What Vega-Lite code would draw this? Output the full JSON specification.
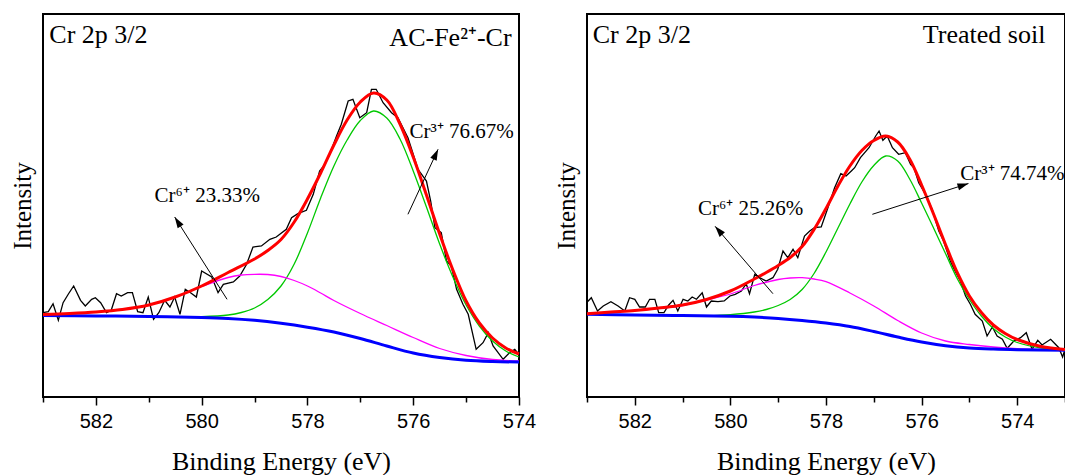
{
  "$schema": "https://vega.github.io/schema/vega-lite/v6.json",
  "background": "white",
  "padding": {"left": 9, "top": 13, "right": 0, "bottom": 0},
  "bounds": "flush",
  "spacing": 68,
  "config": {
    "view": {"stroke": "black", "strokeWidth": 2},
    "axis": {"grid": false, "domain": false, "labelColor": "black", "titleColor": "black", "tickColor": "black", "titleFontWeight": "normal", "titleFont": "Liberation Serif", "labelFont": "Liberation Sans"}
  },
  "datasets": {
    "L_raw": [
      {"E":583.0,"I":84.3},{"E":582.9,"I":85.3},{"E":582.81,"I":93.3},{"E":582.71,"I":76.7},{"E":582.62,"I":94.3},{"E":582.52,"I":103},{"E":582.42,"I":111},{"E":582.29,"I":96.7},{"E":582.2,"I":91},{"E":582.08,"I":97.7},{"E":582.01,"I":99.3},{"E":581.91,"I":94.3},{"E":581.8,"I":84.3},{"E":581.71,"I":86.7},{"E":581.61,"I":103.3},{"E":581.52,"I":101},{"E":581.4,"I":104.3},{"E":581.31,"I":104.3},{"E":581.21,"I":85.3},{"E":581.11,"I":84.3},{"E":581.01,"I":100},{"E":580.91,"I":77.7},{"E":580.81,"I":84.3},{"E":580.7,"I":96.7},{"E":580.6,"I":90},{"E":580.51,"I":100},{"E":580.41,"I":82.7},{"E":580.31,"I":107.7},{"E":580.21,"I":104.3},{"E":580.1,"I":100},{"E":580.0,"I":126},{"E":579.81,"I":120},{"E":579.69,"I":104.3},{"E":579.59,"I":112.7},{"E":579.4,"I":115},{"E":579.28,"I":121},{"E":579.15,"I":132.7},{"E":579.03,"I":150},{"E":578.87,"I":151},{"E":578.71,"I":157.7},{"E":578.59,"I":160},{"E":578.4,"I":167.7},{"E":578.3,"I":179.3},{"E":578.18,"I":183.3},{"E":578.02,"I":186.7},{"E":577.89,"I":202.7},{"E":577.77,"I":226},{"E":577.67,"I":232.7},{"E":577.57,"I":244},{"E":577.45,"I":261},{"E":577.36,"I":272.7},{"E":577.23,"I":296},{"E":577.14,"I":297.7},{"E":577.01,"I":279.3},{"E":576.88,"I":284.3},{"E":576.79,"I":307.7},{"E":576.7,"I":307.7},{"E":576.57,"I":294.3},{"E":576.41,"I":284.3},{"E":576.29,"I":279.3},{"E":576.1,"I":259.3},{"E":576.03,"I":247.7},{"E":575.91,"I":227.7},{"E":575.75,"I":216},{"E":575.67,"I":196},{"E":575.59,"I":169.3},{"E":575.47,"I":164.3},{"E":575.37,"I":136},{"E":575.28,"I":131},{"E":575.18,"I":107.7},{"E":575.06,"I":92.7},{"E":574.96,"I":82.7},{"E":574.81,"I":47.7},{"E":574.68,"I":54.3},{"E":574.58,"I":64.3},{"E":574.49,"I":51},{"E":574.3,"I":37.7},{"E":574.18,"I":44.3},{"E":574.08,"I":47.7},{"E":574.0,"I":42.7}
    ],
    "L_env": [
      {"E":583,"I":82.5},{"E":582.5,"I":83.5},{"E":582,"I":85},{"E":581.5,"I":87.5},{"E":581,"I":92},{"E":580.5,"I":100},{"E":580,"I":111},{"E":579.5,"I":124.5},{"E":579,"I":138},{"E":578.75,"I":146.5},{"E":578.5,"I":157.5},{"E":578.25,"I":175},{"E":578,"I":198},{"E":577.75,"I":224},{"E":577.5,"I":252},{"E":577.25,"I":277},{"E":577,"I":295},{"E":576.75,"I":304},{"E":576.5,"I":297},{"E":576.25,"I":273},{"E":576,"I":240},{"E":575.75,"I":202},{"E":575.5,"I":163},{"E":575.25,"I":127},{"E":575,"I":96},{"E":574.75,"I":74},{"E":574.5,"I":59},{"E":574.25,"I":49},{"E":574,"I":43}
    ],
    "L_cr3": [
      {"E":580.5,"I":80},{"E":580,"I":80.3},{"E":579.5,"I":82},{"E":579.25,"I":84.5},{"E":579,"I":89},{"E":578.75,"I":97.5},{"E":578.5,"I":111},{"E":578.25,"I":133},{"E":578,"I":164},{"E":577.75,"I":199},{"E":577.5,"I":231},{"E":577.25,"I":257},{"E":577,"I":276.5},{"E":576.75,"I":286},{"E":576.5,"I":279},{"E":576.25,"I":258},{"E":576,"I":226},{"E":575.75,"I":190},{"E":575.5,"I":153},{"E":575.25,"I":120},{"E":575,"I":92},{"E":574.75,"I":71},{"E":574.5,"I":56},{"E":574.25,"I":46},{"E":574,"I":40}
    ],
    "L_cr6": [
      {"E":583,"I":82.5},{"E":582,"I":85},{"E":581,"I":92},{"E":580.5,"I":100},{"E":580,"I":110.5},{"E":579.5,"I":119.5},{"E":579.25,"I":122},{"E":579,"I":122.7},{"E":578.75,"I":122.5},{"E":578.5,"I":120.5},{"E":578.25,"I":116.5},{"E":578,"I":111},{"E":577.75,"I":104},{"E":577.5,"I":96.5},{"E":577,"I":83.5},{"E":576.5,"I":71.5},{"E":576,"I":59.5},{"E":575.5,"I":48.5},{"E":575,"I":41.5},{"E":574.5,"I":37.5},{"E":574,"I":36}
    ],
    "L_bg": [
      {"E":583,"I":81.5},{"E":582,"I":81.1},{"E":581,"I":80.5},{"E":580,"I":79.6},{"E":579.5,"I":78.6},{"E":579,"I":76.7},{"E":578.5,"I":73.7},{"E":578,"I":69.8},{"E":577.5,"I":65},{"E":577,"I":58.5},{"E":576.5,"I":51},{"E":576,"I":44},{"E":575.5,"I":39.5},{"E":575,"I":36.7},{"E":574.5,"I":35.5},{"E":574,"I":35}
    ],
    "R_raw": [
      {"E":582.99,"I":95.3},{"E":582.91,"I":99.3},{"E":582.78,"I":86},{"E":582.66,"I":91},{"E":582.5,"I":95.3},{"E":582.35,"I":91},{"E":582.21,"I":86},{"E":582.11,"I":99.3},{"E":582.0,"I":97.7},{"E":581.9,"I":90},{"E":581.78,"I":90},{"E":581.69,"I":97.7},{"E":581.58,"I":97.7},{"E":581.5,"I":84.3},{"E":581.39,"I":84.3},{"E":581.29,"I":92},{"E":581.2,"I":96.7},{"E":581.1,"I":86},{"E":580.99,"I":97.7},{"E":580.89,"I":96},{"E":580.8,"I":100},{"E":580.71,"I":97.7},{"E":580.59,"I":104.3},{"E":580.5,"I":90},{"E":580.4,"I":96},{"E":580.26,"I":95.3},{"E":580.13,"I":96},{"E":580.01,"I":101},{"E":579.9,"I":102.7},{"E":579.77,"I":106},{"E":579.67,"I":113.3},{"E":579.6,"I":103.3},{"E":579.49,"I":122.7},{"E":579.39,"I":119.3},{"E":579.25,"I":116},{"E":579.11,"I":119.3},{"E":579.01,"I":127.7},{"E":578.9,"I":146},{"E":578.8,"I":139.3},{"E":578.69,"I":147.7},{"E":578.59,"I":139.3},{"E":578.45,"I":161},{"E":578.34,"I":166},{"E":578.24,"I":169.3},{"E":578.1,"I":170},{"E":577.96,"I":189.3},{"E":577.82,"I":209.3},{"E":577.69,"I":223.3},{"E":577.58,"I":221},{"E":577.47,"I":226},{"E":577.4,"I":229.3},{"E":577.28,"I":239.3},{"E":577.1,"I":249.3},{"E":576.96,"I":261},{"E":576.89,"I":266},{"E":576.81,"I":256.7},{"E":576.72,"I":261},{"E":576.61,"I":249.3},{"E":576.48,"I":242.7},{"E":576.34,"I":244.3},{"E":576.23,"I":232.7},{"E":576.16,"I":229.3},{"E":576.06,"I":214.3},{"E":575.92,"I":202.7},{"E":575.78,"I":187.7},{"E":575.64,"I":166},{"E":575.54,"I":156},{"E":575.4,"I":136},{"E":575.3,"I":126},{"E":575.19,"I":116},{"E":575.08,"I":101},{"E":574.98,"I":92.7},{"E":574.88,"I":82.7},{"E":574.73,"I":76},{"E":574.63,"I":61},{"E":574.52,"I":70},{"E":574.42,"I":61},{"E":574.31,"I":57.7},{"E":574.21,"I":48.7},{"E":574.07,"I":56},{"E":573.93,"I":59.3},{"E":573.81,"I":64.3},{"E":573.69,"I":47.7},{"E":573.57,"I":56.7},{"E":573.48,"I":52},{"E":573.3,"I":57.7},{"E":573.13,"I":49.3},{"E":573.05,"I":40},{"E":573.0,"I":47.7}
    ],
    "R_env": [
      {"E":583,"I":83.3},{"E":582.5,"I":85},{"E":582,"I":86.6},{"E":581.5,"I":89},{"E":581,"I":92},{"E":580.5,"I":97.5},{"E":580,"I":106},{"E":579.5,"I":118},{"E":579.25,"I":124.5},{"E":579,"I":131.5},{"E":578.75,"I":139.5},{"E":578.5,"I":150.5},{"E":578.25,"I":167.5},{"E":578,"I":188.5},{"E":577.75,"I":211},{"E":577.5,"I":231},{"E":577.25,"I":246.5},{"E":577,"I":256.5},{"E":576.75,"I":261},{"E":576.5,"I":255},{"E":576.25,"I":238},{"E":576,"I":212},{"E":575.75,"I":183},{"E":575.5,"I":152.5},{"E":575.25,"I":124},{"E":575,"I":101},{"E":574.75,"I":84.5},{"E":574.5,"I":72},{"E":574.25,"I":63.5},{"E":574,"I":57.5},{"E":573.5,"I":50.5},{"E":573,"I":47.5}
    ],
    "R_cr3": [
      {"E":580.5,"I":81.1},{"E":580,"I":82.3},{"E":579.5,"I":85},{"E":579.25,"I":87.5},{"E":579,"I":91.5},{"E":578.75,"I":97.5},{"E":578.5,"I":107.5},{"E":578.25,"I":123.5},{"E":578,"I":145},{"E":577.75,"I":169},{"E":577.5,"I":193},{"E":577.25,"I":215},{"E":577,"I":231.5},{"E":576.75,"I":241},{"E":576.5,"I":236},{"E":576.25,"I":218},{"E":576,"I":194},{"E":575.75,"I":169},{"E":575.5,"I":143.5},{"E":575.25,"I":118},{"E":575,"I":97.5},{"E":574.75,"I":81},{"E":574.5,"I":68.5},{"E":574.25,"I":60},{"E":574,"I":54.5},{"E":573.5,"I":49},{"E":573,"I":46.8}
    ],
    "R_cr6": [
      {"E":583,"I":83.3},{"E":582,"I":86.6},{"E":581,"I":91.5},{"E":580.5,"I":97},{"E":580,"I":103},{"E":579.5,"I":111.5},{"E":579,"I":117.5},{"E":578.75,"I":119},{"E":578.5,"I":119.3},{"E":578.25,"I":118},{"E":578,"I":115.4},{"E":577.5,"I":104},{"E":577,"I":91},{"E":576.5,"I":76.5},{"E":576,"I":64},{"E":575.5,"I":56},{"E":575,"I":52.5},{"E":574.5,"I":50},{"E":574,"I":48.3},{"E":573.5,"I":47.5},{"E":573,"I":47}
    ],
    "R_bg": [
      {"E":583,"I":82.7},{"E":582,"I":82.1},{"E":581,"I":81.5},{"E":580,"I":80.7},{"E":579.5,"I":79.9},{"E":579,"I":78.6},{"E":578.5,"I":76.6},{"E":578,"I":74},{"E":577.5,"I":70.5},{"E":577,"I":65.5},{"E":576.5,"I":60},{"E":576,"I":55},{"E":575.5,"I":51.3},{"E":575,"I":49},{"E":574.5,"I":47.9},{"E":574,"I":47.3},{"E":573,"I":46.8}
    ],
    "L_arrows": [
      {"E":579.52,"I":97.7,"E2":580.51,"I2":180},
      {"E":576.10,"I":182.7,"E2":575.53,"I2":247.7}
    ],
    "R_arrows": [
      {"E":579.11,"I":103.3,"E2":580.32,"I2":170.7},
      {"E":577.03,"I":182.7,"E2":575.02,"I2":213.5}
    ],
    "L_head1": [{"E":580.51,"I":180}],
    "L_head2": [{"E":575.53,"I":247.7}],
    "R_head1": [{"E":580.32,"I":170.7}],
    "R_head2": [{"E":575.02,"I":213.5}],
    "L_hl": [{"E":582.88,"I":354,"t":"Cr 2p 3/2"}],
    "L_hr": [{"E":574.14,"I":351,"t":"AC-Fe²⁺-Cr"}],
    "L_ann": [{"E":580.89,"I":195,"t":"Cr⁶⁺ 23.33%"},{"E":576.07,"I":259,"t":"Cr³⁺ 76.67%"}],
    "R_hl": [{"E":582.88,"I":354,"t":"Cr 2p 3/2"}],
    "R_hr": [{"E":573.41,"I":354,"t":"Treated soil"}],
    "R_ann": [{"E":580.68,"I":182,"t":"Cr⁶⁺ 25.26%"},{"E":575.19,"I":217,"t":"Cr³⁺ 74.74%"}]
  },
  "hconcat": [
    {
      "width": 476,
      "height": 383,
      "encoding": {
        "x": {"field": "E", "type": "quantitative",
          "scale": {"domain": [574, 583], "reverse": true, "nice": false, "zero": false},
          "axis": {"title": "Binding Energy (eV)", "values": [583,582,581,580,579,578,577,576,575,574],
            "labelExpr": "datum.value % 2 === 0 ? datum.label : ''",
            "tickSize": {"condition": {"test": "datum.value % 2 === 0", "value": 8}, "value": 5},
            "tickWidth": 1.5, "labelFontSize": 20, "labelPadding": 6, "labelFlush": false, "labelOverlap": false,
            "titleFontSize": 26, "titlePadding": 17}},
        "y": {"field": "I", "type": "quantitative",
          "scale": {"domain": [0, 383], "nice": false, "zero": false},
          "axis": {"title": "Intensity", "ticks": false, "labels": false, "titleFontSize": 25, "titlePadding": 8}}
      },
      "layer": [
        {"data": {"name": "L_raw"}, "mark": {"type": "line", "color": "black", "strokeWidth": 1.3}},
        {"data": {"name": "L_cr3"}, "mark": {"type": "line", "color": "#00c800", "strokeWidth": 1.3, "interpolate": "catmull-rom"}},
        {"data": {"name": "L_cr6"}, "mark": {"type": "line", "color": "#ff00ff", "strokeWidth": 1.3, "interpolate": "catmull-rom"}},
        {"data": {"name": "L_bg"}, "mark": {"type": "line", "color": "#0000ff", "strokeWidth": 3, "interpolate": "catmull-rom"}},
        {"data": {"name": "L_env"}, "mark": {"type": "line", "color": "#ff0000", "strokeWidth": 3, "interpolate": "catmull-rom"}},
        {"data": {"name": "L_arrows"}, "mark": {"type": "rule", "color": "black", "strokeWidth": 1},
          "encoding": {"x2": {"field": "E2"}, "y2": {"field": "I2"}}},
        {"data": {"name": "L_head1"}, "mark": {"type": "point", "shape": "M0,0L-0.7,2.2L0.7,2.2Z", "size": 100, "filled": true, "color": "black", "opacity": 1, "angle": 327.4}},
        {"data": {"name": "L_head2"}, "mark": {"type": "point", "shape": "M0,0L-0.7,2.2L0.7,2.2Z", "size": 100, "filled": true, "color": "black", "opacity": 1, "angle": 24.8}},
        {"data": {"name": "L_hl"}, "mark": {"type": "text", "align": "left", "baseline": "alphabetic", "font": "Liberation Serif", "fontSize": 26, "color": "black"}, "encoding": {"text": {"field": "t"}}},
        {"data": {"name": "L_hr"}, "mark": {"type": "text", "align": "right", "baseline": "alphabetic", "font": "Liberation Serif", "fontSize": 26, "color": "black"}, "encoding": {"text": {"field": "t"}}},
        {"data": {"name": "L_ann"}, "mark": {"type": "text", "align": "left", "baseline": "alphabetic", "font": "Liberation Serif", "fontSize": 21, "color": "black"}, "encoding": {"text": {"field": "t"}}}
      ]
    },
    {
      "width": 478,
      "height": 383,
      "encoding": {
        "x": {"field": "E", "type": "quantitative",
          "scale": {"domain": [573, 583], "reverse": true, "nice": false, "zero": false},
          "axis": {"title": "Binding Energy (eV)", "values": [583,582,581,580,579,578,577,576,575,574,573],
            "labelExpr": "datum.value % 2 === 0 ? datum.label : ''",
            "tickSize": {"condition": {"test": "datum.value % 2 === 0", "value": 8}, "value": 5},
            "tickWidth": 1.5, "labelFontSize": 20, "labelPadding": 6, "labelFlush": false, "labelOverlap": false,
            "titleFontSize": 26, "titlePadding": 17}},
        "y": {"field": "I", "type": "quantitative",
          "scale": {"domain": [0, 383], "nice": false, "zero": false},
          "axis": {"title": "Intensity", "ticks": false, "labels": false, "titleFontSize": 25, "titlePadding": 8}}
      },
      "layer": [
        {"data": {"name": "R_raw"}, "mark": {"type": "line", "color": "black", "strokeWidth": 1.3}},
        {"data": {"name": "R_cr3"}, "mark": {"type": "line", "color": "#00c800", "strokeWidth": 1.3, "interpolate": "catmull-rom"}},
        {"data": {"name": "R_cr6"}, "mark": {"type": "line", "color": "#ff00ff", "strokeWidth": 1.3, "interpolate": "catmull-rom"}},
        {"data": {"name": "R_bg"}, "mark": {"type": "line", "color": "#0000ff", "strokeWidth": 3, "interpolate": "catmull-rom"}},
        {"data": {"name": "R_env"}, "mark": {"type": "line", "color": "#ff0000", "strokeWidth": 3, "interpolate": "catmull-rom"}},
        {"data": {"name": "R_arrows"}, "mark": {"type": "rule", "color": "black", "strokeWidth": 1},
          "encoding": {"x2": {"field": "E2"}, "y2": {"field": "I2"}}},
        {"data": {"name": "R_head1"}, "mark": {"type": "point", "shape": "M0,0L-0.7,2.2L0.7,2.2Z", "size": 100, "filled": true, "color": "black", "opacity": 1, "angle": 319.3}},
        {"data": {"name": "R_head2"}, "mark": {"type": "point", "shape": "M0,0L-0.7,2.2L0.7,2.2Z", "size": 100, "filled": true, "color": "black", "opacity": 1, "angle": 72.3}},
        {"data": {"name": "R_hl"}, "mark": {"type": "text", "align": "left", "baseline": "alphabetic", "font": "Liberation Serif", "fontSize": 26, "color": "black"}, "encoding": {"text": {"field": "t"}}},
        {"data": {"name": "R_hr"}, "mark": {"type": "text", "align": "right", "baseline": "alphabetic", "font": "Liberation Serif", "fontSize": 26, "color": "black"}, "encoding": {"text": {"field": "t"}}},
        {"data": {"name": "R_ann"}, "mark": {"type": "text", "align": "left", "baseline": "alphabetic", "font": "Liberation Serif", "fontSize": 21, "color": "black"}, "encoding": {"text": {"field": "t"}}}
      ]
    }
  ]
}
